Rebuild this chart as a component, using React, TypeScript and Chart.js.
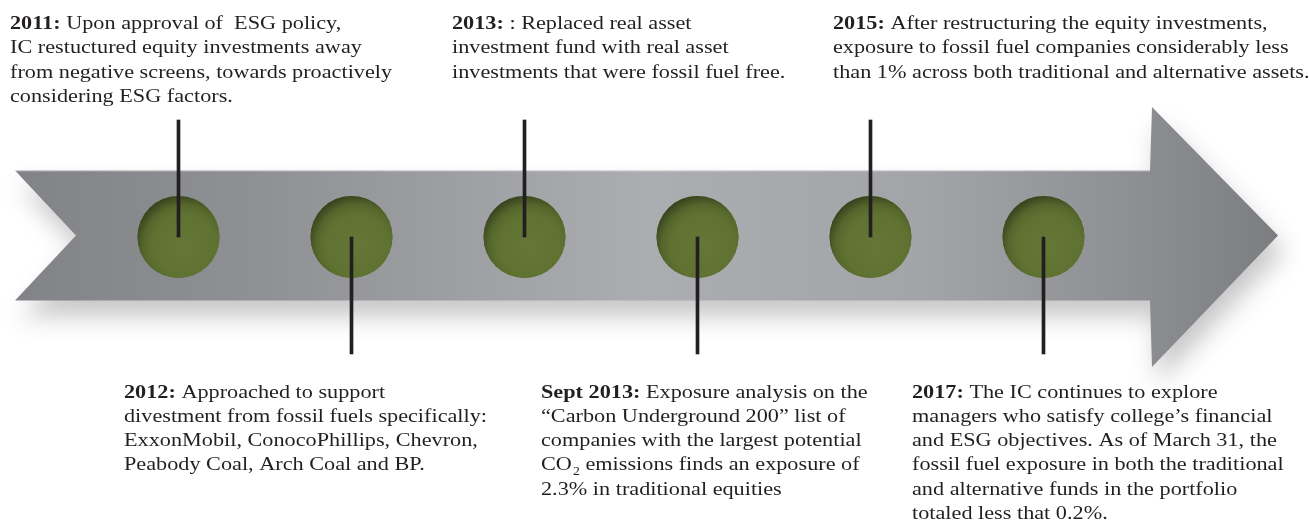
import React, { useEffect, useRef } from "react";
import { Chart, registerables } from "chart.js";

Chart.register(...registerables);

// ---- data ----
const events = ["2011", "2012", "2013", "Sept 2013", "2015", "2017"];
const labelSide = [1, -1, 1, -1, 1, -1]; // +1 = note above the arrow, -1 = below
const headings = ["2011:", "2012:", "2013:", "Sept 2013:", "2015:", "2017:"];
const notes2011 = [
  "Upon approval of  ESG policy,",
  "IC restuctured equity investments away",
  "from negative screens, towards proactively",
  "considering ESG factors.",
];
const notes2012 = [
  "Approached to support",
  "divestment from fossil fuels specifically:",
  "ExxonMobil, ConocoPhillips, Chevron,",
  "Peabody Coal, Arch Coal and BP.",
];
const notes2013 = [
  ": Replaced real asset",
  "investment fund with real asset",
  "investments that were fossil fuel free.",
];
const notesSept2013 = [
  "Exposure analysis on the",
  "\u201CCarbon Underground 200\u201D list of",
  "companies with the largest potential",
  "CO\u2082 emissions finds an exposure of",
  "2.3% in traditional equities",
];
const notes2015 = [
  "After restructuring the equity investments,",
  "exposure to fossil fuel companies considerably less",
  "than 1% across both traditional and alternative assets.",
];
const notes2017 = [
  "The IC continues to explore",
  "managers who satisfy college\u2019s financial",
  "and ESG objectives. As of March 31, the",
  "fossil fuel exposure in both the traditional",
  "and alternative funds in the portfolio",
  "totaled less that 0.2%.",
];
const notes = [notes2011, notes2012, notes2013, notesSept2013, notes2015, notes2017];

// ---- layout / style ----
const W = 1309;
const H = 531;
const TEXT_X = [10, 124, 452, 541, 833, 912];
const TOP_BASE = 29;
const BOTTOM_BASE = 397.5;
const LINE_H = 24.3;
const FS = 19.5;
const SX = 1.14;
const FONT_FAMILY = '"Liberation Serif", "Times New Roman", serif';
const INK = "#231f20";

const arrowPlugin = {
  id: "arrowBody",
  beforeDatasetsDraw(chart: any) {
    const ctx = chart.ctx as CanvasRenderingContext2D;
    const top = 170.5;
    const bot = 300.5;
    const mid = (top + bot) / 2;
    ctx.save();
    ctx.beginPath();
    ctx.moveTo(15, top);
    ctx.lineTo(1150, top);
    ctx.lineTo(1152, 107);
    ctx.lineTo(1278, mid);
    ctx.lineTo(1152, 367);
    ctx.lineTo(1150, bot);
    ctx.lineTo(15, bot);
    ctx.lineTo(76, mid);
    ctx.closePath();
    const g = ctx.createLinearGradient(15, 0, 1278, 0);
    g.addColorStop(0, "#828386");
    g.addColorStop(0.2, "#909194");
    g.addColorStop(0.5, "#acadb0");
    g.addColorStop(0.72, "#a3a4a7");
    g.addColorStop(0.9, "#8c8d90");
    g.addColorStop(1, "#7c7d80");
    ctx.fillStyle = g;
    ctx.shadowColor = "rgba(0,0,0,0.22)";
    ctx.shadowBlur = 24;
    ctx.shadowOffsetX = 6;
    ctx.shadowOffsetY = 16;
    ctx.fill();
    ctx.shadowColor = "transparent";
    ctx.strokeStyle = "rgba(255,255,255,0.35)";
    ctx.lineWidth = 1;
    ctx.beginPath();
    ctx.moveTo(15, top + 0.5);
    ctx.lineTo(1150, top + 0.5);
    ctx.stroke();
    ctx.restore();
  },
};

// shading of the milestone discs drawn by the line dataset
const discShadePlugin = {
  id: "discShade",
  afterDatasetDraw(chart: any, args: any) {
    if (args.index !== 1) return;
    const ctx = chart.ctx as CanvasRenderingContext2D;
    ctx.save();
    args.meta.data.forEach((el: any) => {
      const { x, y } = el.getProps(["x", "y"], true);
      const r = el.options.radius;
      if (!isFinite(x) || !isFinite(y)) return;
      const g = ctx.createRadialGradient(x + 6, y + 9, 0, x + 6, y + 9, r + 12);
      g.addColorStop(0, "#647736");
      g.addColorStop(0.6, "#5f7232");
      g.addColorStop(0.78, "#55662c");
      g.addColorStop(1, "#333c1c");
      ctx.beginPath();
      ctx.arc(x, y, r, 0, Math.PI * 2);
      ctx.fillStyle = g;
      ctx.fill();
    });
    ctx.restore();
  },
};

function drawLine(ctx: CanvasRenderingContext2D, text: string, startX: number) {
  let x = startX;
  const normal = `${FS}px ${FONT_FAMILY}`;
  const small = `${FS * 0.62}px ${FONT_FAMILY}`;
  const parts = text.split("\u2082");
  parts.forEach((p, i) => {
    ctx.font = normal;
    ctx.fillText(p, x, 0);
    x += ctx.measureText(p).width;
    if (i < parts.length - 1) {
      ctx.font = small;
      ctx.fillText("2", x + 1, 5);
      x += ctx.measureText("2").width + 1;
    }
  });
}

const notesPlugin = {
  id: "notes",
  afterDatasetsDraw(chart: any) {
    const ctx = chart.ctx as CanvasRenderingContext2D;
    ctx.save();
    ctx.fillStyle = INK;
    ctx.textBaseline = "alphabetic";
    ctx.textAlign = "left";
    events.forEach((_, ei) => {
      const base = labelSide[ei] > 0 ? TOP_BASE : BOTTOM_BASE;
      notes[ei].forEach((line, li) => {
        ctx.save();
        ctx.translate(TEXT_X[ei], base + li * LINE_H);
        ctx.scale(SX, 1);
        let x = 0;
        if (li === 0) {
          ctx.font = `bold ${FS}px ${FONT_FAMILY}`;
          ctx.fillText(headings[ei], 0, 0);
          x = ctx.measureText(headings[ei]).width;
          ctx.font = `${FS}px ${FONT_FAMILY}`;
          x += ctx.measureText(" ").width;
        }
        drawLine(ctx, line, x);
        ctx.restore();
      });
    });
    ctx.restore();
  },
};

export default function App() {
  const ref = useRef<HTMLCanvasElement | null>(null);
  useEffect(() => {
    if (!ref.current) return;
    const chart = new Chart(ref.current, {
      type: "bar",
      data: {
        labels: events,
        datasets: [
          {
            type: "bar",
            label: "connectors",
            data: labelSide.map((s) => [0, s]) as any,
            backgroundColor: INK,
            borderWidth: 0,
            barThickness: 3,
            clip: false,
            order: 0,
          } as any,
          {
            type: "line",
            label: "milestones",
            data: events.map(() => 0),
            showLine: false,
            pointRadius: 41,
            pointHoverRadius: 41,
            pointBorderWidth: 0,
            pointBackgroundColor: "#5f7232",
            borderColor: "rgba(0,0,0,0)",
            clip: false,
            order: 1,
          } as any,
        ],
      },
      options: {
        responsive: false,
        animation: false,
        devicePixelRatio: 1,
        layout: { autoPadding: false, padding: { left: 178.5, right: 265.5, top: 0, bottom: 0 } },
        plugins: { legend: { display: false }, tooltip: { enabled: false } },
        events: [],
        scales: {
          x: { type: "category", display: false, offset: false, grid: { display: false } },
          y: { type: "linear", display: false, min: -2.513, max: 2.0256 },
        },
      },
      plugins: [arrowPlugin, discShadePlugin, notesPlugin],
    });
    return () => chart.destroy();
  }, []);
  return (
    <div style={{ position: "fixed", left: 0, top: 0, width: W, height: H, background: "#fff" }}>
      <canvas ref={ref} width={W} height={H} style={{ display: "block", width: W, height: H }} />
    </div>
  );
}
